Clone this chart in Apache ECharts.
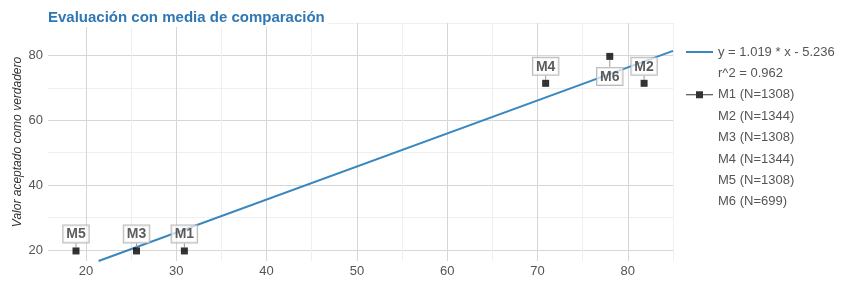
<!DOCTYPE html>
<html>
<head>
<meta charset="utf-8">
<script src="https://cdn.jsdelivr.net/npm/echarts@6/dist/echarts.min.js"></script>
<style>
  html, body { margin: 0; padding: 0; background: #fff; }
  #chart { width: 841px; height: 281px; }
</style>
</head>
<body>
<div id="chart"></div>
<script>
// datos
const pointNames = ['M1', 'M2', 'M3', 'M4', 'M5', 'M6'];
const pointX = [30.9, 81.8, 25.6, 70.9, 18.9, 78.0];
const pointY = [19.7, 71.4, 19.7, 71.4, 19.7, 79.7];
const legendNames = ['M1 (N=1308)', 'M2 (N=1344)', 'M3 (N=1308)', 'M4 (N=1344)', 'M5 (N=1308)', 'M6 (N=699)'];
const fitLabel = 'y = 1.019 * x - 5.236';
const fitR2 = 'r^2 = 0.962';
const fitX = [21.4, 85];
const fitY = [16.6, 81.4];
const xTicks = [20, 30, 40, 50, 60, 70, 80];
const xMinor = [25, 35, 45, 55, 65, 75, 85];
const yTicks = [20, 40, 60, 80];
const yMinor = [30, 50, 70, 90];

const chart = echarts.init(document.getElementById('chart'));

const X_MIN = 15.8, X_MAX = 85, Y_MIN = 16.6, Y_MAX = 90;
const fontFam = 'Liberation Sans, Arial, sans-serif';

const scatterData = pointNames.map(function (n, i) {
    const item = { name: n, value: [pointX[i], pointY[i]] };
    if (n === 'M6') {
        item.label = { position: 'bottom' };
    }
    return item;
});

// series vacías solo para la leyenda
const dummySeries = [fitR2].concat(legendNames.slice(1)).map(function (n) {
    return { name: n, type: 'line', data: [], xAxisIndex: 0, yAxisIndex: 0 };
});

const option = {
    animation: false,
    title: {
        text: 'Evaluación con media de comparación',
        left: 44,
        top: 8,
        padding: [2, 4],
        backgroundColor: '#fff',
        textStyle: { fontSize: 15, fontWeight: 'bold', color: '#2f78b5', fontFamily: fontFam }
    },
    grid: { left: 48, right: 168, top: 23, bottom: 20 },
    legend: {
        orient: 'vertical',
        left: 681,
        top: 39,
        itemWidth: 27,
        itemHeight: 14,
        itemGap: 5.4,
        selectedMode: false,
        textStyle: { fontSize: 13, color: '#555', lineHeight: 16, fontFamily: fontFam },
        data: [
            { name: fitLabel, icon: 'path://M0,6 L27,6 L27,8 L0,8 Z', itemStyle: { color: '#3a87c0' } },
            { name: fitR2, icon: 'none' },
            { name: legendNames[0], icon: 'path://M0,6.5 L10,6.5 L10,3.5 L17,3.5 L17,6.5 L27,6.5 L27,7.5 L17,7.5 L17,10.5 L10,10.5 L10,7.5 L0,7.5 Z', itemStyle: { color: '#000' } },
            { name: legendNames[1], icon: 'none' },
            { name: legendNames[2], icon: 'none' },
            { name: legendNames[3], icon: 'none' },
            { name: legendNames[4], icon: 'none' },
            { name: legendNames[5], icon: 'none' }
        ]
    },
    xAxis: [{
        type: 'value',
        min: X_MIN,
        max: X_MAX,
        axisLine: { show: false },
        axisTick: { show: false, customValues: xTicks },
        axisLabel: { customValues: xTicks, color: '#555', fontSize: 13, margin: 4, fontFamily: fontFam },
        splitLine: { show: true, lineStyle: { color: '#d6d6d6', width: 1 } }
    }, {
        type: 'value',
        min: X_MIN,
        max: X_MAX,
        position: 'bottom',
        axisLine: { show: false },
        axisTick: { show: false, customValues: xMinor },
        axisLabel: { show: false, customValues: xMinor },
        splitLine: { show: true, lineStyle: { color: '#efefef', width: 1 } }
    }],
    yAxis: [{
        type: 'value',
        min: Y_MIN,
        max: Y_MAX,
        name: 'Valor aceptado como verdadero',
        nameLocation: 'middle',
        nameRotate: 90,
        nameGap: 24,
        nameMoveOverlap: false,
        nameTextStyle: { fontStyle: 'italic', fontSize: 12, color: '#333', fontFamily: fontFam },
        axisLine: { show: false },
        axisTick: { show: false, customValues: yTicks },
        axisLabel: { customValues: yTicks, color: '#555', fontSize: 13, margin: 5, fontFamily: fontFam },
        splitLine: { show: true, lineStyle: { color: '#d6d6d6', width: 1 } }
    }, {
        type: 'value',
        min: Y_MIN,
        max: Y_MAX,
        position: 'left',
        axisLine: { show: false },
        axisTick: { show: false, customValues: yMinor },
        axisLabel: { show: false, customValues: yMinor },
        splitLine: { show: true, lineStyle: { color: '#efefef', width: 1 } }
    }],
    series: [
        {
            name: fitLabel,
            type: 'line',
            data: fitX.map(function (x, i) { return [x, fitY[i]]; }),
            showSymbol: false,
            clip: true,
            lineStyle: { color: '#3a87c0', width: 2 },
            itemStyle: { color: '#3a87c0' },
            z: 3
        },
        {
            name: legendNames[0],
            type: 'scatter',
            data: scatterData,
            symbol: 'rect',
            symbolSize: 7,
            itemStyle: { color: '#000' },
            label: {
                show: true,
                position: 'top',
                distance: 1,
                formatter: '{b}',
                fontSize: 14,
                fontWeight: 'bold',
                color: '#333',
                fontFamily: fontFam,
                backgroundColor: 'rgba(255,255,255,0.85)',
                borderColor: '#aaa',
                borderWidth: 1,
                padding: [2, 3, 1, 3]
            },
            labelLayout: function (params) {
                return { dy: params.dataIndex === 5 ? 7 : -4 };
            },
            labelLine: { show: true, lineStyle: { color: '#999', width: 1 } },
            z: 4
        }
    ].concat(dummySeries)
};

chart.setOption(option);
</script>
</body>
</html>
